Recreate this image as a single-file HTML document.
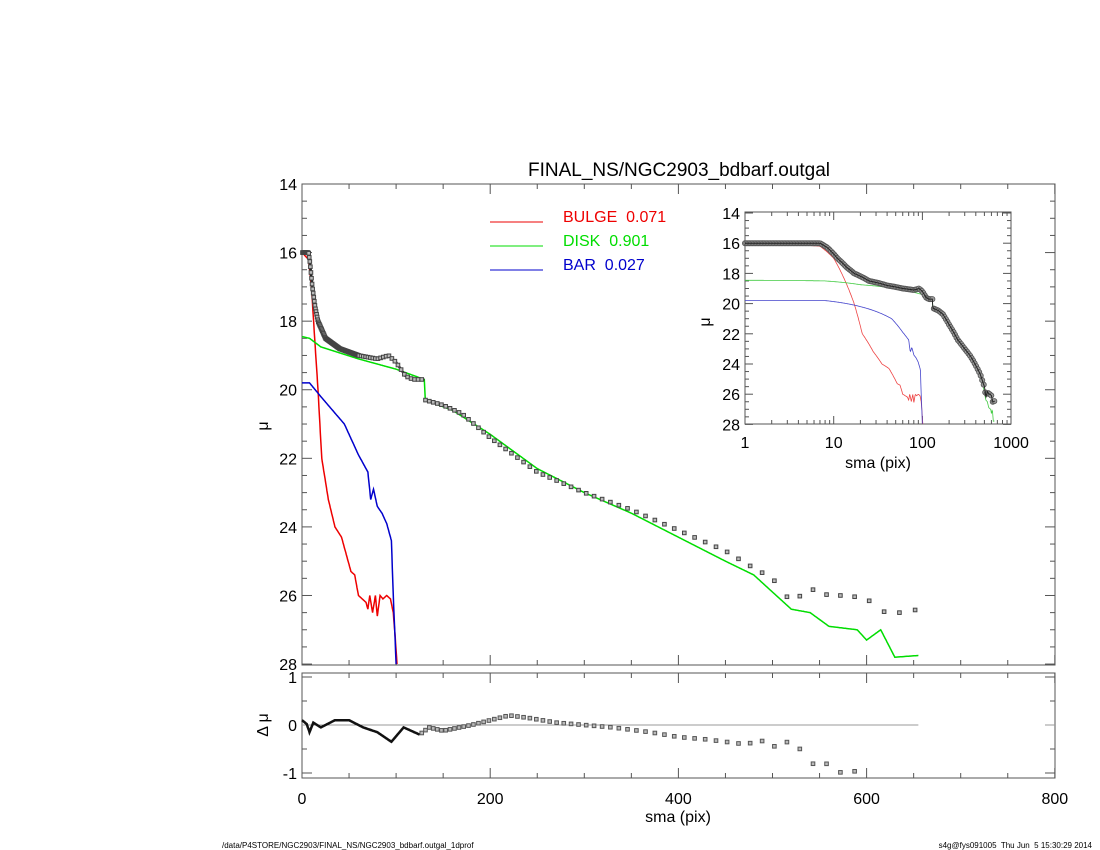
<!DOCTYPE html>
<html><head><meta charset="utf-8"><style>
html,body{margin:0;padding:0;background:#fff;width:1100px;height:850px;overflow:hidden}
svg text{font-family:"Liberation Sans",sans-serif;fill:#000;white-space:pre}
</style></head><body>
<svg id="s" width="1100" height="850" xmlns="http://www.w3.org/2000/svg"></svg>
<script>
const S=document.getElementById('s');let h='';
function interp(pts,r){if(r<=pts[0][0])return pts[0][1];for(let i=1;i<pts.length;i++){if(r<=pts[i][0]){const a=pts[i-1],b=pts[i];return a[1]+(b[1]-a[1])*(r-a[0])/(b[0]-a[0]);}}return pts[pts.length-1][1];}
const obs=[[0,16],[7,16],[8.5,16.3],[11,17],[14,17.6],[17,18],[25,18.5],[40,18.8],[60,19.0],[80,19.1],[92,19.0],[100,19.2],[110,19.6],[118,19.7],[130,19.7],[131,20.3],[150,20.45],[170,20.7],[200,21.4],[250,22.4],[300,23.0],[350,23.5],[400,24.1],[450,24.7],[480,25.2],[500,25.5],[520,26.2],[540,25.8],[560,26.0],[580,26.0],[600,26.1],[620,26.5],[640,26.5],[655,26.4]];
const disk=[[0,18.45],[8,18.5],[20,18.75],[60,19.1],[100,19.4],[120,19.6],[130,19.7],[131,20.3],[160,20.6],[200,21.3],[250,22.3],[300,23.0],[350,23.6],[400,24.3],[450,25.0],[480,25.4],[500,25.9],[520,26.4],[540,26.5],[560,26.9],[590,27.0],[600,27.3],[615,27.0],[630,27.8],[655,27.75]];
const bulge=[[0,16.0],[7,16.2],[10,17.0],[13,18.3],[17,20.0],[21,22.0],[28,23.2],[35,24.0],[42,24.3],[48,24.9],[52,25.3],[56,25.4],[60,26.0],[64,26.1],[68,26.2],[70,26.4],[72,26.0],[75,26.5],[78,26.0],[80,26.6],[83,26.0],[86,26.1],[90,26.0],[94,26.1],[97,26.5],[99,27.2],[101,28]];
const bar=[[0,19.8],[8,19.8],[20,20.2],[45,21.0],[60,21.9],[70,22.4],[73,23.2],[76,22.9],[80,23.4],[85,23.6],[90,23.9],[95,24.4],[97,26],[100,28]];
const res=[[0,0.1],[5,0.02],[8,-0.15],[12,0.05],[20,-0.05],[35,0.1],[50,0.1],[65,-0.05],[80,-0.15],[95,-0.35],[108,-0.05],[125,-0.2],[135,-0.05],[150,-0.12],[180,0.0],[200,0.1],[220,0.2],[240,0.15],[270,0.05],[300,0.0],[330,-0.05],[350,-0.1],[370,-0.15],[400,-0.25],[430,-0.3],[470,-0.4],[490,-0.33],[500,-0.45],[510,-0.42],[520,-0.3],[530,-0.52],[545,-0.85],[560,-0.8],[575,-1.03],[590,-0.95],[600,-1.0],[610,-1.2],[655,-1.5]];
const X=r=>302+r*0.941,Y=m=>184+(m-14)*34.29;
const LX=r=>745+Math.log10(Math.max(r,1))*88.7,LY=m=>213+(m-14)*15.1;
const RY=d=>725-d*48;
function path(pts,fx,fy,col,w,step,rmin){let d='';let rmax=pts[pts.length-1][0];for(let r=rmin;r<=rmax;r+=step(r)){const y=Math.min(interp(pts,r),28);d+=(d?'L':'M')+fx(r).toFixed(1)+' '+fy(y).toFixed(1);}return `<path d="${d}" fill="none" stroke="${col}" stroke-width="${w}"/>`;}
const lin=r=>0.5,logs=r=>Math.max(0.05,r*0.01);
function frame(x0,y0,x1,y1){h+=`<rect x="${x0}" y="${y0}" width="${x1-x0}" height="${y1-y0}" fill="none" stroke="#555" stroke-width="1"/>`;}
frame(302,184,1055,665);frame(302,673,1055,778);frame(745,212,1011,424);
for(let v=0;v<=800;v+=50){const x=X(v),L=v%200==0?10:5;h+=`<line x1="${x}" y1="665" x2="${x}" y2="${665-L}" stroke="#555"/><line x1="${x}" y1="184" x2="${x}" y2="${184+L}" stroke="#555"/><line x1="${x}" y1="778" x2="${x}" y2="${778-L}" stroke="#555"/><line x1="${x}" y1="673" x2="${x}" y2="${673+L}" stroke="#555"/>`;if(v%200==0)h+=`<text x="${x}" y="804" font-size="16" text-anchor="middle">${v}</text>`;}
for(let m=14;m<=28;m+=0.5){const y=Y(m),L=m%2==0?10:5;h+=`<line x1="302" y1="${y}" x2="${302+L}" y2="${y}" stroke="#555"/><line x1="1055" y1="${y}" x2="${1055-L}" y2="${y}" stroke="#555"/>`;if(m%2==0)h+=`<text x="297" y="${y+6}" font-size="16" text-anchor="end">${m}</text>`;}
for(let d=-1;d<=1;d+=0.5){const y=RY(d),L=d%1==0?10:5;h+=`<line x1="302" y1="${y}" x2="${302+L}" y2="${y}" stroke="#555"/><line x1="1055" y1="${y}" x2="${1055-L}" y2="${y}" stroke="#555"/>`;if(d%1==0)h+=`<text x="297" y="${y+6}" font-size="16" text-anchor="end">${d}</text>`;}
for(let dec=0;dec<3;dec++)for(let k=1;k<=9;k++){const r=Math.pow(10,dec)*k,x=LX(r),L=k==1?8:4;h+=`<line x1="${x}" y1="424" x2="${x}" y2="${424-L}" stroke="#555"/><line x1="${x}" y1="212" x2="${x}" y2="${212+L}" stroke="#555"/>`;}
[[1,'1'],[10,'10'],[100,'100'],[1000,'1000']].forEach(a=>h+=`<text x="${LX(a[0])}" y="448" font-size="16" text-anchor="middle">${a[1]}</text>`);
for(let m=14;m<=28;m+=0.5){const y=LY(m),L=m%2==0?8:4;h+=`<line x1="745" y1="${y}" x2="${745+L}" y2="${y}" stroke="#555"/><line x1="1011" y1="${y}" x2="${1011-L}" y2="${y}" stroke="#555"/>`;if(m%2==0)h+=`<text x="740" y="${y+6}" font-size="16" text-anchor="end">${m}</text>`;}
h+=`<text x="878" y="468" font-size="16" text-anchor="middle">sma (pix)</text><text x="710" y="322" font-size="16" text-anchor="middle" transform="rotate(-90 710 322)">μ</text>`;
h+=`<text x="679" y="176" font-size="19" text-anchor="middle">FINAL_NS/NGC2903_bdbarf.outgal</text>`;
h+=`<text x="678" y="822" font-size="16" text-anchor="middle">sma (pix)</text>`;
h+=`<text x="268" y="426" font-size="16" text-anchor="middle" transform="rotate(-90 268 426)">μ</text>`;
h+=`<text x="268" y="725" font-size="16" text-anchor="middle" transform="rotate(-90 268 725)">Δ μ</text>`;
h+=`<line x1="490" y1="222" x2="543" y2="222" stroke="#e00"/><text x="563" y="222" font-size="16" style="fill:#e00">BULGE  0.071</text>`;
h+=`<line x1="490" y1="246" x2="543" y2="246" stroke="#0d0"/><text x="563" y="246" font-size="16" style="fill:#0d0">DISK  0.901</text>`;
h+=`<line x1="490" y1="270" x2="543" y2="270" stroke="#00c"/><text x="563" y="270" font-size="16" style="fill:#00c">BAR  0.027</text>`;
h+=`<text x="222" y="848" font-size="8">/data/P4STORE/NGC2903/FINAL_NS/NGC2903_bdbarf.outgal_1dprof</text><text x="1092" y="848" font-size="8" text-anchor="end">s4g@fys091005  Thu Jun  5 15:30:29 2014</text>`;
h+=`<line x1="302" y1="725" x2="${X(655)}" y2="725" stroke="#999"/><line x1="1045" y1="725" x2="1055" y2="725" stroke="#999"/>`;
h+=path(bulge,X,Y,'#e00',1.5,lin,0)+path(bar,X,Y,'#00c',1.5,lin,0)+path(disk,X,Y,'#0d0',1.5,lin,0);
h+=path(bulge,LX,LY,'#e44',0.8,logs,1)+path(bar,LX,LY,'#44c',0.8,logs,1)+path(disk,LX,LY,'#4c4',0.8,logs,1);
let r=0.5;const rs=[];while(r<=656){rs.push(r);r=r<60?r+0.6:r*1.025+0.8;}
h+=path(obs.filter(p=>p[0]<=130),X,Y,'#222',2.5,lin,0);
h+=path(res.filter(p=>p[0]<=125),X,RY,'#111',2.5,lin,0);
rs.forEach(r=>{const m=interp(obs,r);h+=`<rect x="${X(r)-1.8}" y="${Y(m)-1.8}" width="3.6" height="3.6" fill="#bbb" stroke="#444" stroke-width="1"/>`;
 if(r>125){const d=interp(res,r);if(d>=-1.04)h+=`<rect x="${X(r)-1.8}" y="${RY(d)-1.8}" width="3.6" height="3.6" fill="#bbb" stroke="#555" stroke-width="1"/>`;}});
let lr=1;while(lr<=656){const m=interp(obs,lr);h+=`<circle cx="${LX(lr)}" cy="${LY(m)}" r="2.6" fill="#999" stroke="#555" stroke-width="0.8"/>`;lr*=1.04;}
h+=path(obs,LX,LY,'#222',1,logs,1);
S.innerHTML=h;
</script>
</body></html>
